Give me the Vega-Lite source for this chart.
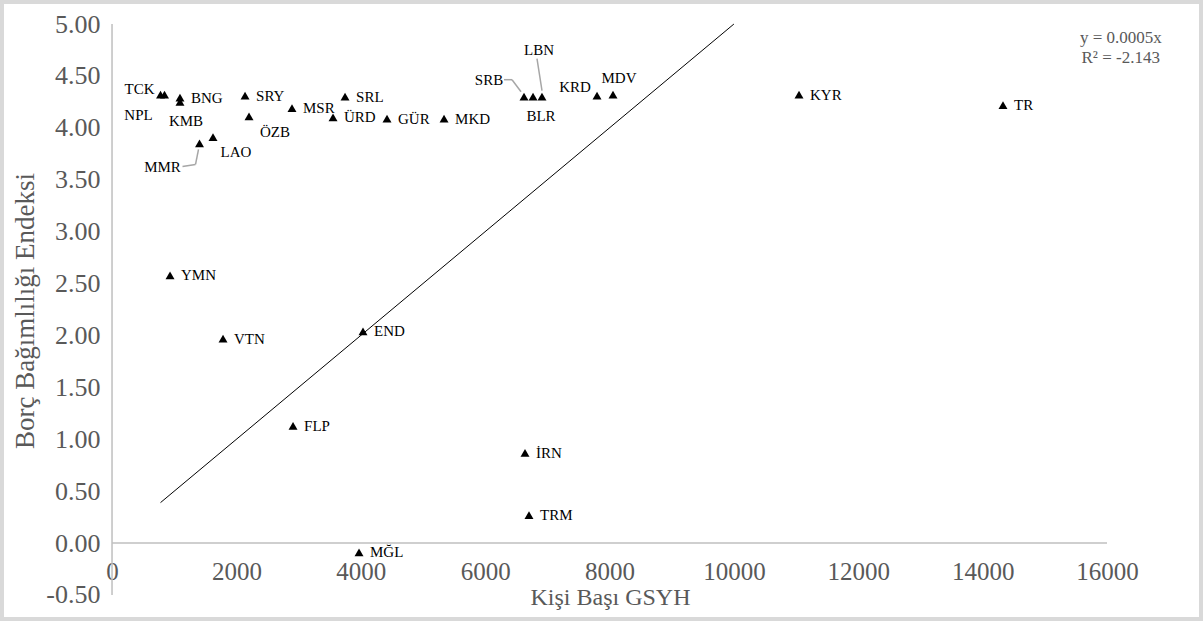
{
  "$schema": "https://vega.github.io/schema/vega-lite/v6.json",
  "width": 1195,
  "height": 613,
  "padding": 4,
  "autosize": {"type": "none"},
  "background": "#d9d9d9",
  "config": {"view": {"fill": "white", "stroke": null}, "font": "Liberation Serif"},
  "datasets": {
    "countries": [
      {"name": "TCK", "gdp": 780, "bbi": 4.32},
      {"name": "NPL", "gdp": 844, "bbi": 4.32},
      {"name": "BNG", "gdp": 1093, "bbi": 4.29},
      {"name": "KMB", "gdp": 1093, "bbi": 4.25},
      {"name": "SRY", "gdp": 2139, "bbi": 4.31},
      {"name": "ÖZB", "gdp": 2203, "bbi": 4.11},
      {"name": "MSR", "gdp": 2894, "bbi": 4.19},
      {"name": "SRL", "gdp": 3747, "bbi": 4.30},
      {"name": "ÜRD", "gdp": 3554, "bbi": 4.10},
      {"name": "GÜR", "gdp": 4422, "bbi": 4.09},
      {"name": "MKD", "gdp": 5339, "bbi": 4.09},
      {"name": "LAO", "gdp": 1624, "bbi": 3.91},
      {"name": "MMR", "gdp": 1407, "bbi": 3.85},
      {"name": "SRB", "gdp": 6625, "bbi": 4.30},
      {"name": "BLR", "gdp": 6770, "bbi": 4.30},
      {"name": "LBN", "gdp": 6914, "bbi": 4.30},
      {"name": "KRD", "gdp": 7799, "bbi": 4.31},
      {"name": "MDV", "gdp": 8056, "bbi": 4.32},
      {"name": "KYR", "gdp": 11047, "bbi": 4.32},
      {"name": "TR", "gdp": 14327, "bbi": 4.22},
      {"name": "YMN", "gdp": 933, "bbi": 2.58},
      {"name": "VTN", "gdp": 1785, "bbi": 1.97},
      {"name": "END", "gdp": 4036, "bbi": 2.04},
      {"name": "FLP", "gdp": 2911, "bbi": 1.13},
      {"name": "İRN", "gdp": 6641, "bbi": 0.87},
      {"name": "TRM", "gdp": 6705, "bbi": 0.27},
      {"name": "MĞL", "gdp": 3972, "bbi": -0.09}
    ],
    "trend": [
      {"gdp": 780, "fit": 0.39},
      {"gdp": 10000, "fit": 5.0}
    ]
  },
  "data": {"name": "countries"},
  "layer": [
    {
      "data": {"values": [{}]},
      "mark": {"type": "rule", "color": "#bfbfbf", "strokeWidth": 1.5},
      "encoding": {
        "x": {"datum": 0, "type": "quantitative"},
        "y": {"datum": -0.5, "type": "quantitative"},
        "y2": {"datum": 5}
      }
    },
    {
      "data": {"values": [{}]},
      "mark": {"type": "rule", "color": "#bfbfbf", "strokeWidth": 1.5},
      "encoding": {
        "y": {"datum": 0, "type": "quantitative"},
        "x": {"datum": 0, "type": "quantitative"},
        "x2": {"datum": 16000}
      }
    },
    {
      "data": {"name": "trend"},
      "mark": {"type": "line", "color": "black", "strokeWidth": 1},
      "encoding": {
        "x": {"field": "gdp", "type": "quantitative"},
        "y": {"field": "fit", "type": "quantitative"}
      }
    },
    {
      "transform": [{"filter": {"field": "name", "equal": "MMR"}}],
      "mark": {"type": "rule", "color": "#a6a6a6", "strokeWidth": 1.5, "xOffset": -1, "yOffset": 6, "x2Offset": -4, "y2Offset": 21},
      "encoding": {"x": {"field": "gdp", "type": "quantitative"}, "y": {"field": "bbi", "type": "quantitative"}, "x2": {"field": "gdp"}, "y2": {"field": "bbi"}}
    },
    {
      "transform": [{"filter": {"field": "name", "equal": "MMR"}}],
      "mark": {"type": "rule", "color": "#a6a6a6", "strokeWidth": 1.5, "xOffset": -4, "yOffset": 21, "x2Offset": -17, "y2Offset": 23},
      "encoding": {"x": {"field": "gdp", "type": "quantitative"}, "y": {"field": "bbi", "type": "quantitative"}, "x2": {"field": "gdp"}, "y2": {"field": "bbi"}}
    },
    {
      "transform": [{"filter": {"field": "name", "equal": "SRB"}}],
      "mark": {"type": "rule", "color": "#a6a6a6", "strokeWidth": 1.5, "xOffset": -20, "yOffset": -17, "x2Offset": -12, "y2Offset": -17},
      "encoding": {"x": {"field": "gdp", "type": "quantitative"}, "y": {"field": "bbi", "type": "quantitative"}, "x2": {"field": "gdp"}, "y2": {"field": "bbi"}}
    },
    {
      "transform": [{"filter": {"field": "name", "equal": "SRB"}}],
      "mark": {"type": "rule", "color": "#a6a6a6", "strokeWidth": 1.5, "xOffset": -12, "yOffset": -17, "x2Offset": -3, "y2Offset": -5},
      "encoding": {"x": {"field": "gdp", "type": "quantitative"}, "y": {"field": "bbi", "type": "quantitative"}, "x2": {"field": "gdp"}, "y2": {"field": "bbi"}}
    },
    {
      "transform": [{"filter": {"field": "name", "equal": "LBN"}}],
      "mark": {"type": "rule", "color": "#a6a6a6", "strokeWidth": 1.5, "xOffset": -5, "yOffset": -38, "x2Offset": 0, "y2Offset": -6},
      "encoding": {"x": {"field": "gdp", "type": "quantitative"}, "y": {"field": "bbi", "type": "quantitative"}, "x2": {"field": "gdp"}, "y2": {"field": "bbi"}}
    },
    {
      "mark": {"type": "point", "shape": "triangle-up", "filled": true, "color": "black", "size": 80, "opacity": 1},
      "encoding": {
        "x": {
          "field": "gdp", "type": "quantitative",
          "scale": {"domain": [-1737, 17479], "nice": false, "zero": false},
          "axis": {
            "title": "Kişi Başı GSYH",
            "values": [0, 2000, 4000, 6000, 8000, 10000, 12000, 14000, 16000],
            "format": "d",
            "offset": -74,
            "domain": false, "ticks": false, "grid": false,
            "labelFlush": false, "labelOverlap": false,
            "labelPadding": 16,
            "labelFontSize": 25, "labelColor": "#595959", "labelFont": "Liberation Serif",
            "titleFont": "Liberation Serif", "titleFontSize": 24, "titleFontWeight": "normal",
            "titleColor": "#595959", "titlePadding": 1, "titleX": 606
          }
        },
        "y": {
          "field": "bbi", "type": "quantitative",
          "scale": {"domain": [-0.712, 5.193], "nice": false, "zero": false},
          "axis": {
            "title": "Borç Bağımlılığı Endeksi",
            "values": [-0.5, 0, 0.5, 1, 1.5, 2, 2.5, 3, 3.5, 4, 4.5, 5],
            "labelExpr": "replace(format(datum.value, '.2f'), '\u2212', '-')",
            "offset": -108,
            "domain": false, "ticks": false, "grid": false,
            "labelFlush": false, "labelOverlap": false,
            "labelPadding": 12,
            "labelFontSize": 26, "labelColor": "#595959", "labelFont": "Liberation Serif",
            "titleFont": "Liberation Serif", "titleFontSize": 27, "titleFontWeight": "normal",
            "titleColor": "#595959", "titlePadding": 6
          }
        }
      }
    },
    {
      "transform": [{"filter": {"field": "name", "oneOf": ["BNG", "SRY", "MSR", "SRL", "ÜRD", "GÜR", "MKD", "KYR", "TR", "YMN", "VTN", "END", "FLP", "İRN", "TRM", "MĞL"]}}],
      "mark": {"type": "text", "align": "left", "baseline": "middle", "dx": 11, "fontSize": 15, "color": "black", "font": "Liberation Serif"},
      "encoding": {"x": {"field": "gdp", "type": "quantitative"}, "y": {"field": "bbi", "type": "quantitative"}, "text": {"field": "name"}}
    },
    {
      "transform": [{"filter": {"field": "name", "equal": "TCK"}}],
      "mark": {"type": "text", "align": "right", "baseline": "middle", "dx": -6, "dy": -6, "fontSize": 15, "color": "black", "font": "Liberation Serif"},
      "encoding": {"x": {"field": "gdp", "type": "quantitative"}, "y": {"field": "bbi", "type": "quantitative"}, "text": {"field": "name"}}
    },
    {
      "transform": [{"filter": {"field": "name", "equal": "NPL"}}],
      "mark": {"type": "text", "align": "center", "baseline": "middle", "dx": -26, "dy": 20, "fontSize": 15, "color": "black", "font": "Liberation Serif"},
      "encoding": {"x": {"field": "gdp", "type": "quantitative"}, "y": {"field": "bbi", "type": "quantitative"}, "text": {"field": "name"}}
    },
    {
      "transform": [{"filter": {"field": "name", "equal": "KMB"}}],
      "mark": {"type": "text", "align": "center", "baseline": "middle", "dx": 6, "dy": 19, "fontSize": 15, "color": "black", "font": "Liberation Serif"},
      "encoding": {"x": {"field": "gdp", "type": "quantitative"}, "y": {"field": "bbi", "type": "quantitative"}, "text": {"field": "name"}}
    },
    {
      "transform": [{"filter": {"field": "name", "equal": "ÖZB"}}],
      "mark": {"type": "text", "align": "center", "baseline": "middle", "dx": 26, "dy": 16, "fontSize": 15, "color": "black", "font": "Liberation Serif"},
      "encoding": {"x": {"field": "gdp", "type": "quantitative"}, "y": {"field": "bbi", "type": "quantitative"}, "text": {"field": "name"}}
    },
    {
      "transform": [{"filter": {"field": "name", "equal": "LAO"}}],
      "mark": {"type": "text", "align": "center", "baseline": "middle", "dx": 23, "dy": 15, "fontSize": 15, "color": "black", "font": "Liberation Serif"},
      "encoding": {"x": {"field": "gdp", "type": "quantitative"}, "y": {"field": "bbi", "type": "quantitative"}, "text": {"field": "name"}}
    },
    {
      "transform": [{"filter": {"field": "name", "equal": "MMR"}}],
      "mark": {"type": "text", "align": "center", "baseline": "middle", "dx": -37, "dy": 24, "fontSize": 15, "color": "black", "font": "Liberation Serif"},
      "encoding": {"x": {"field": "gdp", "type": "quantitative"}, "y": {"field": "bbi", "type": "quantitative"}, "text": {"field": "name"}}
    },
    {
      "transform": [{"filter": {"field": "name", "equal": "SRB"}}],
      "mark": {"type": "text", "align": "center", "baseline": "middle", "dx": -35, "dy": -17, "fontSize": 15, "color": "black", "font": "Liberation Serif"},
      "encoding": {"x": {"field": "gdp", "type": "quantitative"}, "y": {"field": "bbi", "type": "quantitative"}, "text": {"field": "name"}}
    },
    {
      "transform": [{"filter": {"field": "name", "equal": "BLR"}}],
      "mark": {"type": "text", "align": "center", "baseline": "middle", "dx": 8, "dy": 19, "fontSize": 15, "color": "black", "font": "Liberation Serif"},
      "encoding": {"x": {"field": "gdp", "type": "quantitative"}, "y": {"field": "bbi", "type": "quantitative"}, "text": {"field": "name"}}
    },
    {
      "transform": [{"filter": {"field": "name", "equal": "LBN"}}],
      "mark": {"type": "text", "align": "center", "baseline": "middle", "dx": -3, "dy": -47, "fontSize": 15, "color": "black", "font": "Liberation Serif"},
      "encoding": {"x": {"field": "gdp", "type": "quantitative"}, "y": {"field": "bbi", "type": "quantitative"}, "text": {"field": "name"}}
    },
    {
      "transform": [{"filter": {"field": "name", "equal": "KRD"}}],
      "mark": {"type": "text", "align": "center", "baseline": "middle", "dx": -22, "dy": -9, "fontSize": 15, "color": "black", "font": "Liberation Serif"},
      "encoding": {"x": {"field": "gdp", "type": "quantitative"}, "y": {"field": "bbi", "type": "quantitative"}, "text": {"field": "name"}}
    },
    {
      "transform": [{"filter": {"field": "name", "equal": "MDV"}}],
      "mark": {"type": "text", "align": "center", "baseline": "middle", "dx": 6, "dy": -17, "fontSize": 15, "color": "black", "font": "Liberation Serif"},
      "encoding": {"x": {"field": "gdp", "type": "quantitative"}, "y": {"field": "bbi", "type": "quantitative"}, "text": {"field": "name"}}
    },
    {
      "data": {"values": [{}]},
      "mark": {"type": "text", "align": "left", "baseline": "middle", "fontSize": 17, "color": "#595959", "font": "Liberation Serif", "text": "y = 0.0005x"},
      "encoding": {"x": {"datum": 15566, "type": "quantitative"}, "y": {"datum": 4.864, "type": "quantitative"}}
    },
    {
      "data": {"values": [{}]},
      "mark": {"type": "text", "align": "left", "baseline": "middle", "fontSize": 17, "color": "#595959", "font": "Liberation Serif", "text": "R² = -2.143"},
      "encoding": {"x": {"datum": 15590, "type": "quantitative"}, "y": {"datum": 4.672, "type": "quantitative"}}
    }
  ]
}
